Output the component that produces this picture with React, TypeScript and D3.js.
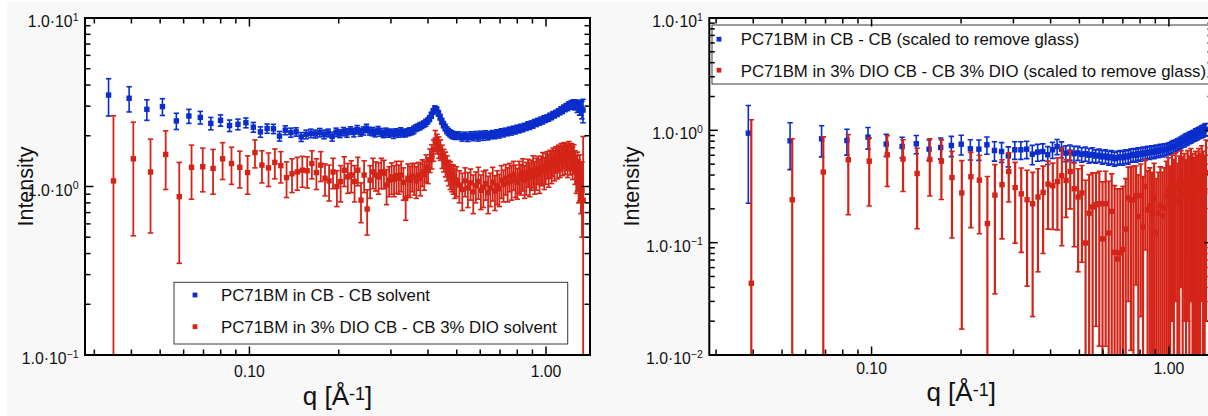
import React from 'react';
import * as d3 from 'd3';

// ---------- data: left panel (solvent subtracted) ----------
const qLeftCB = [0.0335,0.0393,0.0451,0.0509,0.0567,0.0625,0.0683,0.0741,0.0799,0.0857,0.0915,0.0973,0.1031,0.1089,0.1147,0.1205,0.1263,0.1321,0.1379,0.1437,0.1495,0.1553,0.1611,0.1669,0.1727,0.1785,0.1843,0.1901,0.1959,0.2017,0.2075,0.2133,0.2191,0.2249,0.2307,0.2365,0.2423,0.2481,0.2539,0.2597,0.2655,0.2713,0.2771,0.2829,0.2887,0.2945,0.3003,0.3061,0.3119,0.3177,0.3235,0.3293,0.3351,0.3409,0.3467,0.3525,0.3583,0.3641,0.3699,0.3757,0.3815,0.3873,0.3931,0.3989,0.4047,0.4105,0.4163,0.4221,0.4279,0.4337,0.4395,0.4453,0.4511,0.4569,0.4627,0.4685,0.4743,0.4801,0.4859,0.4917,0.4975,
0.5091,0.5207,0.5323,0.5439,0.5555,0.5671,0.5787,0.5903,0.6019,0.6135,0.6251,0.6367,0.6483,0.6599,0.6715,0.6831,0.6947,0.7063,0.7179,0.7295,0.7411,0.7527,0.7643,0.7759,0.7875,0.7991,0.8107,0.8223,0.8339,0.8455,0.8571,0.8687,0.8803,0.8919,0.9035,0.9151,0.9267,0.9383,0.9499,0.9615,0.9731,0.9847,0.9963,1.0079,1.0195,1.0311,1.0427,1.0543,1.0659,1.0775,1.0891,1.1007,1.1123,1.1239,1.1355,1.1471,1.1587,1.1703,1.1819,1.1935,1.2051,1.2167,1.2283,1.2399,1.2515,1.2631,1.2747,1.2863,1.2979,1.3095,1.3211,1.3327];
const iLeftCB = [3.49,3.34,2.87,2.98,2.45,2.62,2.57,2.37,2.47,2.30,2.34,2.39,2.25,2.11,2.21,2.20,1.99,2.16,2.09,2.11,1.97,2.04,
2.07,2.05,2.09,2.04,2.08,1.98,2.10,2.06,2.12,2.08,2.15,2.09,2.18,2.10,2.14,2.22,2.13,2.12,2.08,2.16,2.10,2.05,2.11,2.07,2.09,2.04,2.10,2.06,2.12,2.08,2.07,2.10,2.12,2.13,2.17,2.22,2.25,2.28,2.31,2.35,2.39,2.45,2.53,2.65,2.79,2.90,2.86,2.72,2.58,2.44,2.33,2.24,2.16,2.11,2.07,2.04,2.02,2.01,2.00,
2.01,1.96,2.00,1.95,2.01,1.97,2.02,1.96,2.03,1.98,2.04,1.99,2.02,2.05,2.02,2.07,2.04,2.10,2.07,2.12,2.10,2.15,2.12,2.18,2.15,2.21,2.18,2.24,2.21,2.27,2.25,2.32,2.28,2.35,2.32,2.40,2.37,2.44,2.41,2.48,2.45,2.53,2.50,2.56,2.54,2.62,2.59,2.68,2.65,2.73,2.70,2.79,2.76,2.86,2.82,2.93,2.90,2.99,2.95,3.05,3.01,3.09,3.04,3.10,3.03,3.06,2.97,3.00,2.91,2.94,2.86,2.84];
const eLeftCB = [0.87,0.57,0.40,0.34,0.27,0.25,0.22,0.20,0.19,0.18,0.17,0.16,0.15,0.15,0.14,0.14,0.13,0.13,0.13,0.12,0.12,0.12,
0.12,0.11,0.12,0.12,0.11,0.12,0.12,0.11,0.12,0.12,0.11,0.12,0.12,0.11,0.12,0.12,0.11,0.12,0.11,0.11,0.11,0.10,0.11,0.11,0.10,0.11,0.10,0.10,0.11,
0.11,0.10,0.10,0.11,0.10,0.11,0.10,0.10,0.11,0.10,0.10,0.11,0.10,0.10,0.11,0.10,0.11,0.10,0.10,0.10,0.10,0.10,0.10,0.10,0.10,0.10,0.10,0.10,0.10,0.10,
0.10,0.10,0.10,0.10,0.10,0.10,0.10,0.10,0.10,0.10,0.10,0.10,0.10,0.10,0.10,0.10,0.10,0.10,0.10,0.10,0.10,0.10,0.10,0.10,0.10,0.10,0.10,0.10,0.10,0.10,0.10,0.10,0.10,0.10,0.10,0.10,0.10,0.10,0.10,0.10,0.10,0.10,0.10,0.10,0.10,0.10,0.10,0.10,0.10,0.10,
0.10,0.10,0.10,0.11,0.11,0.11,0.12,0.12,0.13,0.13,0.14,0.15,0.16,0.17,0.18,0.20,0.22,0.24,0.26,0.29,0.34,0.45];

const qLeftDIO = [0.0348,0.0406,0.0464,0.0522,0.0580,0.0638,0.0696,0.0754,0.0812,0.0870,0.0928,0.0986,0.1044,0.1102,0.1160,0.1218,0.1276,0.1334,0.1392,0.1450,0.1508,0.1566,0.1624,0.1682,0.1740,0.1798,0.1856,0.1914,0.1972,0.2030,0.2088,0.2146,0.2204,0.2262,0.2320,0.2378,0.2436,0.2494,0.2552,0.2610,0.2668,0.2726,0.2784,0.2842,0.2900,0.2958,0.3016,0.3074,0.3132,0.3190,0.3248,0.3306,0.3364,0.3422,0.3480,0.3538,0.3596,0.3654,0.3712,0.3770,0.3828,0.3886,0.3944,0.4002,0.4060,0.4118,0.4176,0.4234,0.4292,0.4350,0.4408,0.4466,0.4524,0.4582,0.4640,0.4698,0.4756,0.4814,0.4872,0.4930,0.4988,
0.5104,0.5220,0.5336,0.5452,0.5568,0.5684,0.5800,0.5916,0.6032,0.6148,0.6264,0.6380,0.6496,0.6612,0.6728,0.6844,0.6960,0.7076,0.7192,0.7308,0.7424,0.7540,0.7656,0.7772,0.7888,0.8004,0.8120,0.8236,0.8352,0.8468,0.8584,0.8700,0.8816,0.8932,0.9048,0.9164,0.9280,0.9396,0.9512,0.9628,0.9744,0.9860,0.9976,1.0092,1.0208,1.0324,1.0440,1.0556,1.0672,1.0788,1.0904,1.1020,1.1136,1.1252,1.1368,1.1484,1.1600,1.1716,1.1832,1.1948,1.2064,1.2180,1.2296,1.2412,1.2528,1.2644,1.2760,1.2876,1.2992,1.3108,1.3224,1.3340];
const iLeftDIO = [1.08,1.46,1.22,1.55,0.87,1.30,1.31,1.28,1.46,1.37,1.30,1.21,1.59,1.34,1.29,1.39,1.33,1.13,1.19,1.22,1.25,1.24,1.37,
1.21,1.34,1.12,1.08,1.22,1.00,1.07,1.25,1.14,1.17,1.07,1.25,0.83,1.17,0.735,1.09,1.22,1.17,1.14,1.22,1.20,1.02,1.09,1.14,1.10,1.16,1.12,1.17,1.06,0.85,1.12,1.09,1.15,1.13,1.08,1.17,1.12,1.22,1.18,1.30,1.26,1.44,1.52,1.65,1.89,1.80,1.72,1.66,1.52,1.44,1.37,1.30,1.22,1.18,1.14,1.12,1.06,1.09,
1.02,0.96,1.08,0.98,1.05,0.93,1.01,1.07,0.95,0.99,1.04,0.92,0.98,1.06,0.94,1.01,0.97,1.09,1.03,1.12,1.05,1.15,1.08,1.18,1.10,1.06,1.16,1.12,1.20,1.09,1.14,1.22,1.13,1.19,1.25,1.15,1.21,1.27,1.18,1.26,1.31,1.22,1.30,1.36,1.27,1.38,1.33,1.42,1.36,1.46,1.40,1.49,1.43,1.52,1.45,1.55,1.48,1.53,1.44,1.56,1.47,1.52,1.41,1.48,1.33,1.22,1.27,1.12,1.18,1.04,0.95,0.83];
const eLeftDIO = [1.55,0.95,0.69,0.59,0.52,0.46,0.38,0.38,0.36,0.34,0.32,0.31,0.30,0.29,0.29,0.28,0.28,0.27,0.27,0.27,0.26,0.26,0.26,
0.25,0.27,0.24,0.26,0.25,0.24,0.26,0.25,0.23,0.25,0.26,0.24,0.22,0.25,0.22,0.24,0.25,0.23,0.24,0.25,0.23,0.24,0.22,0.24,0.23,0.25,0.22,0.24,0.23,0.22,0.24,0.23,0.22,0.24,0.23,0.22,0.24,0.22,0.23,0.24,0.22,0.23,0.25,0.24,0.26,0.24,0.25,0.23,0.24,0.22,0.23,0.22,0.21,0.22,0.21,0.22,0.21,0.22,
0.22,0.24,0.21,0.23,0.22,0.24,0.21,0.23,0.22,0.24,0.21,0.23,0.22,0.24,0.22,0.23,0.21,0.24,0.22,0.23,0.24,0.22,0.25,0.23,0.24,0.22,0.25,0.23,0.26,0.24,0.25,0.23,0.26,0.24,0.27,0.25,0.26,0.24,0.27,0.25,0.28,0.26,0.27,0.25,0.28,0.26,0.29,0.27,0.28,0.26,0.29,0.27,0.30,0.28,0.29,0.27,0.30,0.28,0.31,0.29,0.30,0.28,0.31,0.29,0.30,0.31,0.33,0.32,0.36,0.35,0.45,1.15];

// ---------- data: right panel (scaled to remove glass) ----------
const qRightCB = [0.0385,0.0532,0.0679,0.0826,0.0973,0.1120,0.1267,0.1414,0.1561,0.1708,0.1855,0.2002,0.2149,0.2296,0.2443,0.2590,0.2737,0.2884,0.3031,0.3178,0.3325,0.3472,0.3619,0.3766,0.3913,0.4060,0.4207,0.4354,0.4501,0.4648,0.4795,0.4942,0.5089,0.5236,0.5383,0.5530,0.5677,0.5824,0.5971,0.6118,0.6265,0.6412,0.6559,0.6706,0.6853,0.7000,0.7147,0.7294,0.7441,0.7588,0.7735,0.7882,0.8029,0.8176,0.8323,0.8470,0.8617,0.8764,0.8911,0.9058,0.9205,0.9352,0.9499,0.9646,0.9793,0.9940,1.0087,1.0234,1.0381,1.0528,1.0675,1.0822,1.0969,1.1116,1.1263,1.1410,1.1557,1.1704,1.1851,1.1998,1.2145,1.2292,1.2439,1.2586,1.2733,1.2880,1.3027,1.3174,1.3321];
const iRightCB = [0.944,0.807,0.84,0.812,0.87,0.754,0.718,0.759,0.68,0.704,0.733,
0.753,0.685,0.680,0.743,0.662,0.648,0.593,0.671,0.671,0.680,0.614,0.640,0.648,0.606,0.671,0.718,0.680,0.627,
0.64,0.62,0.63,0.61,0.62,0.60,0.61,0.59,0.60,0.58,0.59,0.57,0.58,0.56,0.57,0.58,0.57,0.59,0.58,0.60,0.61,0.60,0.62,0.61,0.63,0.62,0.64,0.63,0.65,0.64,0.66,0.65,0.67,0.66,0.68,0.67,0.69,0.70,0.71,0.72,0.73,0.75,0.76,0.78,0.80,0.81,0.83,0.84,0.86,0.87,0.89,0.90,0.92,0.93,0.95,0.96,0.98,0.99,1.01,1.02];
const eRightCB = [0.72,0.36,0.26,0.21,0.19,0.17,0.15,0.14,0.14,0.15,0.15,
0.15,0.14,0.14,0.13,0.13,0.13,0.12,0.12,0.12,0.12,0.12,0.11,0.11,0.11,0.11,0.11,0.11,0.10,
0.10,0.10,0.09,0.09,0.09,0.09,0.09,0.08,0.08,0.08,0.08,0.08,0.08,0.08,0.08,0.08,0.08,0.08,0.08,0.08,0.08,0.08,0.08,0.08,0.08,0.08,0.08,0.08,0.08,0.08,
0.08,0.08,0.08,0.08,0.08,0.08,0.08,0.08,0.09,0.09,0.09,0.09,0.09,0.09,0.09,0.10,0.10,0.10,0.10,0.10,0.10,0.10,0.11,0.11,0.11,0.11,0.12,0.12,0.12,0.13];

const qRightDIO = [0.0394,0.0541,0.0688,0.0835,0.0982,0.1129,0.1276,0.1423,0.1570,0.1717,0.1864,0.2011,0.2158,0.2305,0.2452,0.2599,0.2746,0.2893,0.3040,0.3187,0.3334,0.3481,0.3628,0.3775,0.3922,0.4069,0.4216,0.4363,0.4510,0.4657,0.4804,0.4951,0.5098,0.5245,0.5392,0.5539,0.5686,0.5833,0.5980,0.6127,0.6274,0.6421,0.6568,0.6715,0.6862,0.7009,0.7156,0.7303,0.7450,0.7597,0.7744,0.7891,0.8038,0.8185,0.8332,0.8479,0.8626,0.8773,0.8920,0.9067,0.9214,0.9361,0.9508,0.9655,0.9802,0.9949,1.0096,1.0243,1.0390,1.0537,1.0684,1.0831,1.0978,1.1125,1.1272,1.1419,1.1566,1.1713,1.1860,1.2007,1.2154,1.2301,1.2448,1.2595,1.2742,1.2889,1.3036,1.3183,1.3330];
const iRightDIO = [0.0435,0.241,0.425,0.547,0.532,0.606,0.555,0.413,0.55,0.532,0.38,
0.277,0.386,0.36,0.148,0.265,0.328,0.43,0.309,0.272,0.241,0.222,0.255,0.28,0.332,0.321,0.35,0.394,0.358,
0.43,0.302,0.255,0.277,0.0993,0.183,0.208,0.218,0.222,0.108,0.222,0.122,0.19,0.082,0.0715,0.081,0.087,0.132,0.25,0.241,0.241,0.262,
0.171,0.262,0.138,0.316,0.196,0.213,0.183,0.25,0.123,0.183,0.213,0.174,0.203,0.26,0.29,0.22,0.31,0.27,0.33,0.24,0.30,0.35,0.28,0.32,0.26,0.34,0.29,0.36,0.31,0.27,0.33,0.29,0.35,0.30,0.38,0.32,0.28,0.42];
const eRightDIO = [1.2,0.6,0.45,0.37,0.32,0.29,0.27,0.28,0.29,0.29,0.27,
0.26,0.25,0.24,0.24,0.23,0.22,0.2,0.21,0.19,0.2,0.2,0.2,0.2,0.2,0.19,0.22,0.3,0.19,
0.23,0.21,0.2,0.21,0.26,0.22,0.21,0.2,0.21,0.24,0.21,0.23,0.22,0.24,0.23,0.22,0.23,0.24,0.22,0.23,0.24,0.22,
0.23,0.24,0.25,0.23,0.24,0.25,0.24,0.26,0.25,0.24,0.26,0.25,0.26,0.27,0.28,0.26,0.29,0.28,0.3,0.27,0.29,0.31,0.3,0.3,0.29,0.32,0.3,0.33,0.31,0.3,0.32,0.31,0.34,0.32,0.35,0.33,0.32,0.4];

// ---------- ticks & labels ----------
const xMajorTicks = [0.1, 1];
const xMajorLabels = ['0.10', '1.00'];
const yMajorLeft = [0.1, 1, 10];
const yExpLeft = ['\u22121', '0', '1'];
const yMajorRight = [0.01, 0.1, 1, 10];
const yExpRight = ['\u22122', '\u22121', '0', '1'];
const legendLeft = ['PC71BM in CB - CB solvent', 'PC71BM in 3% DIO CB - CB 3% DIO solvent'];
const legendRight = ['PC71BM in CB - CB (scaled to remove glass)', 'PC71BM in 3% DIO CB - CB 3% DIO (scaled to remove glass)'];

const BLUE = '#0a2dcc';
const RED = '#d42418';
const FONT = "'Liberation Sans', Arial, Helvetica, sans-serif";

type Series = { q: number[]; v: number[]; e: number[]; color: string; lw: number };

type PanelProps = {
  id: string;
  L: number; R: number; T: number; B: number;
  xDom: [number, number]; yDom: [number, number];
  series: Series[];
  yMajor: number[]; yExp: string[];
  legend: string[];
  lg: { x: number; y: number; w: number; h: number; mx: number; tx: number; my: number[]; ty: number[] };
  yTitleX: number; xTitleY: number; xLabelY: number;
};

function Panel(p: PanelProps) {
  const x = d3.scaleLog().domain(p.xDom).range([p.L, p.R]);
  const y = d3.scaleLog().domain(p.yDom).range([p.B, p.T]);
  const isMajor = (t: number) => Math.abs(Math.log10(t) - Math.round(Math.log10(t))) < 1e-6;
  const xt = x.ticks();
  const yt = y.ticks();
  const majL = 8.5, minL = 5.5;
  const cap = 2.7;
  const ms = 5.4;
  const cx = (p.L + p.R) / 2;
  const cy = (p.T + p.B) / 2;
  return (
    <g>
      <rect x={p.L} y={p.T} width={p.R - p.L} height={p.B - p.T} fill="#ffffff" />
      <clipPath id={p.id}>
        <rect x={p.L} y={p.T} width={p.R - p.L} height={p.B - p.T} />
      </clipPath>
      <g clipPath={`url(#${p.id})`}>
        {p.series.map((s, si) => (
          <g key={si} stroke={s.color} fill={s.color} strokeWidth={s.lw}>
            {s.q.map((q, i) => {
              const px = x(q);
              const v = s.v[i];
              const e = s.e[i];
              const yTop = y(v + e);
              const low = v - e;
              const yBot = low > 0 ? y(low) : p.B + 10;
              return (
                <g key={i}>
                  <line x1={px} x2={px} y1={yTop} y2={yBot} />
                  <line x1={px - cap} x2={px + cap} y1={yTop} y2={yTop} strokeWidth={1.6} />
                  {low > 0 && <line x1={px - cap} x2={px + cap} y1={yBot} y2={yBot} strokeWidth={1.6} />}
                  <rect x={px - ms / 2} y={y(v) - ms / 2} width={ms} height={ms} stroke="none" />
                </g>
              );
            })}
          </g>
        ))}
      </g>
      {/* legend */}
      <rect x={p.lg.x} y={p.lg.y} width={p.lg.w} height={p.lg.h} fill="#ffffff" stroke="#3a3a3a" strokeWidth={1} />
      {p.legend.map((t, i) => (
        <g key={i}>
          <rect x={p.lg.mx - 2.4} y={p.lg.my[i] - 2.4} width={4.8} height={4.8} fill={p.series[i].color} />
          <text x={p.lg.tx} y={p.lg.ty[i]} fontFamily={FONT} fontSize={16.8} fill="#111">{t}</text>
        </g>
      ))}
      {/* axes frame */}
      <rect x={p.L} y={p.T} width={p.R - p.L} height={p.B - p.T} fill="none" stroke="#000" strokeWidth={2} />
      <g stroke="#000" strokeWidth={1.5}>
        {xt.map((t, i) => {
          const len = isMajor(t) ? majL : minL;
          const px = x(t);
          return (
            <g key={'x' + i}>
              <line x1={px} x2={px} y1={p.B} y2={p.B - len} />
              <line x1={px} x2={px} y1={p.T} y2={p.T + len} />
            </g>
          );
        })}
        {yt.map((t, i) => {
          const len = isMajor(t) ? majL : minL;
          const py = y(t);
          return (
            <g key={'y' + i}>
              <line x1={p.L} x2={p.L + len} y1={py} y2={py} />
              <line x1={p.R} x2={p.R - len} y1={py} y2={py} />
            </g>
          );
        })}
      </g>
      {/* tick labels */}
      {xMajorTicks.map((t, i) => (
        <text key={'xl' + i} x={x(t)} y={p.xLabelY} textAnchor="middle" fontFamily={FONT} fontSize={15.8} fill="#111">{xMajorLabels[i]}</text>
      ))}
      {p.yMajor.map((t, i) => (
        <text key={'yl' + i} x={p.L - 6.5} y={y(t) + 9} textAnchor="end" fontFamily={FONT} fontSize={15.8} fill="#111">
          1.0·10<tspan fontSize={10.5} dy={-6.5}>{p.yExp[i]}</tspan>
        </text>
      ))}
      {/* axis titles */}
      <text transform={`translate(${p.yTitleX},${cy}) rotate(-90)`} textAnchor="middle" fontFamily={FONT} fontSize={21.5} fill="#111">Intensity</text>
      <text x={cx} y={p.xTitleY} textAnchor="middle" fontFamily={FONT} fontSize={26} fill="#111">
        q [Å<tspan fontSize={18} dy={-5}>-1</tspan><tspan dy={5}>]</tspan>
      </text>
    </g>
  );
}

export default function App() {
  const leftSeries: Series[] = [
    { q: qLeftCB, v: iLeftCB, e: eLeftCB, color: BLUE, lw: 1.6 },
    { q: qLeftDIO, v: iLeftDIO, e: eLeftDIO, color: RED, lw: 1.8 },
  ];
  const rightSeries: Series[] = [
    { q: qRightCB, v: iRightCB, e: eRightCB, color: BLUE, lw: 1.6 },
    { q: qRightDIO, v: iRightDIO, e: eRightDIO, color: RED, lw: 2.2 },
  ];
  return (
    <svg width={1208} height={416} style={{ position: 'absolute', left: 0, top: 0, display: 'block' }}>
      <rect x={0} y={0} width={1208} height={416} fill="#ffffff" />
      <rect x={7} y={2} width={1201} height={414} fill="#f8f8f8" />
      <Panel
        id="clipL" L={85} R={590} T={18} B={355}
        xDom={[0.0279, 1.407]} yDom={[0.1, 10]}
        series={leftSeries} yMajor={yMajorLeft} yExp={yExpLeft}
        legend={legendLeft}
        lg={{ x: 174, y: 282.3, w: 393.7, h: 61.7, mx: 195, tx: 221, my: [295, 326.7], ty: [301, 332.7] }}
        yTitleX={33.3} xTitleY={405} xLabelY={376.5}
      />
      <Panel
        id="clipR" L={709.3} R={1213} T={18} B={355}
        xDom={[0.02846, 1.407]} yDom={[0.01, 10]}
        series={rightSeries} yMajor={yMajorRight} yExp={yExpRight}
        legend={legendRight}
        lg={{ x: 712, y: 25, w: 510, h: 59, mx: 719, tx: 740.7, my: [39.2, 70.2], ty: [45, 76.7] }}
        yTitleX={639.3} xTitleY={401} xLabelY={373.5}
      />
    </svg>
  );
}
